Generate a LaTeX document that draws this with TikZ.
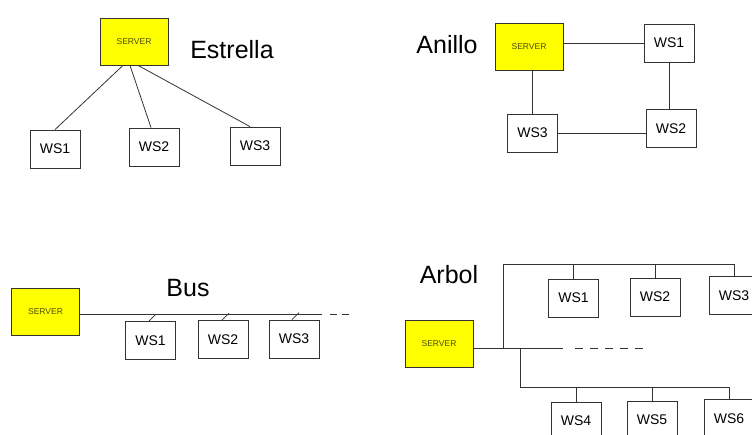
\documentclass[tikz,border=0pt]{standalone}
\usepackage{fontspec}
\setmainfont{Liberation Sans}
\usetikzlibrary{calc}
\definecolor{ServerClr}{rgb}{1,1,0}
\definecolor{ServerTxt}{rgb}{0.3,0.3,0}
\definecolor{LineClr}{rgb}{0.2,0.2,0.2}

\begin{document}
\begin{tikzpicture}[x=1pt,y=-1pt,
  srv/.style={draw=LineClr,line width=0.8pt,fill=ServerClr,minimum width=68pt,minimum height=47pt,inner sep=0pt,text=ServerTxt,font=\fontsize{8.5}{9}\selectfont},
  ws/.style={draw=LineClr,line width=0.8pt,fill=white,minimum width=50pt,minimum height=38pt,inner sep=0pt,font=\fontsize{14}{15}\selectfont},
  title/.style={inner sep=0pt,font=\fontsize{25}{27}\selectfont},
  wire/.style={draw=LineClr,line width=0.8pt},
  dotted wire/.style={wire,dash pattern=on 8pt off 7pt}]
\useasboundingbox (0,0) rectangle (752,435);
\clip (0,0) rectangle (752,435);

\node[srv] (eS) at (134,41.5) {SERVER};
\node[title] (eT) at (232,50) {Estrella};
\node[ws] (eW1) at (55,149) {WS1};
\node[ws] (eW2) at (154,147) {WS2};
\node[ws] (eW3) at (255,146) {WS3};
\draw[wire] ([xshift=-11pt]eS.south) -- (eW1.north);
\draw[wire] ([xshift=-4pt]eS.south) -- ([xshift=-3pt]eW2.north);
\draw[wire] ([xshift=4pt]eS.south) -- ([xshift=-5pt]eW3.north);

\node[title] (aT) at (447,45) {Anillo};
\node[srv] (aS) at (529,46.5) {SERVER};
\node[ws] (aW1) at (669,43) {WS1};
\node[ws] (aW2) at (671,128.5) {WS2};
\node[ws] (aW3) at (532.5,133) {WS3};
\draw[wire] (aW1.west -| aS.east) -- (aW1.west);
\draw[wire] (aW1.south) -- (aW1.south |- aW2.north);
\draw[wire] (aW3.east) -- (aW3.east -| aW2.west);
\draw[wire] (aW3.north) -- (aW3.north |- aS.south);

\node[srv] (bS) at (45.5,311.5) {SERVER};
\node[title] (bT) at (188,288) {Bus};
\coordinate (bE) at (322,314);
\coordinate (bD1) at (330,314);
\coordinate (bD2) at (352,314);
\node[ws] (bW1) at (150.5,340.5) {WS1};
\node[ws] (bW2) at (223,339.5) {WS2};
\node[ws] (bW3) at (294,339) {WS3};
\draw[wire] (bE -| bS.east) -- (bE);
\draw[wire,dash pattern=on 7pt off 5pt] (bD1) -- (bD2);
\draw[wire] ([xshift=-1.5pt]bW1.north) -- ++(7,-7);
\draw[wire] ([xshift=-1pt]bW2.north) -- ++(7,-7);
\draw[wire] ([xshift=-2pt]bW3.north) -- ++(7,-7);

\node[title] (rT) at (449,275) {Arbol};
\node[srv] (rS) at (439,343.5) {SERVER};
\coordinate (rJ1) at (503,348);
\coordinate (rJ2) at (520,348);
\coordinate (rE) at (563,348);
\coordinate (rD1) at (575,348);
\coordinate (rD2) at (643,348);
\coordinate (rC3) at (734,264);
\coordinate (rC6) at (729,387);
\node[ws] (rW1) at (573.5,298) {WS1};
\node[ws] (rW2) at (655,297) {WS2};
\node[ws] (rW3) at (734,295.5) {WS3};
\node[ws] (rW4) at (576,421) {WS4};
\node[ws] (rW5) at (652,420) {WS5};
\node[ws] (rW6) at (729,418.5) {WS6};
\draw[wire] (rJ1 -| rS.east) -- (rE);
\draw[dotted wire] (rD1) -- (rD2);
\draw[wire] (rJ1) |- (rC3) -- (rW3.north);
\draw[wire] (rW1.north) -- (rW1.north |- rC3);
\draw[wire] (rW2.north) -- (rW2.north |- rC3);
\draw[wire] (rJ2) |- (rC6) -- (rW6.north);
\draw[wire] (rW4.north) -- (rW4.north |- rC6);
\draw[wire] (rW5.north) -- (rW5.north |- rC6);

\end{tikzpicture}
\end{document}
